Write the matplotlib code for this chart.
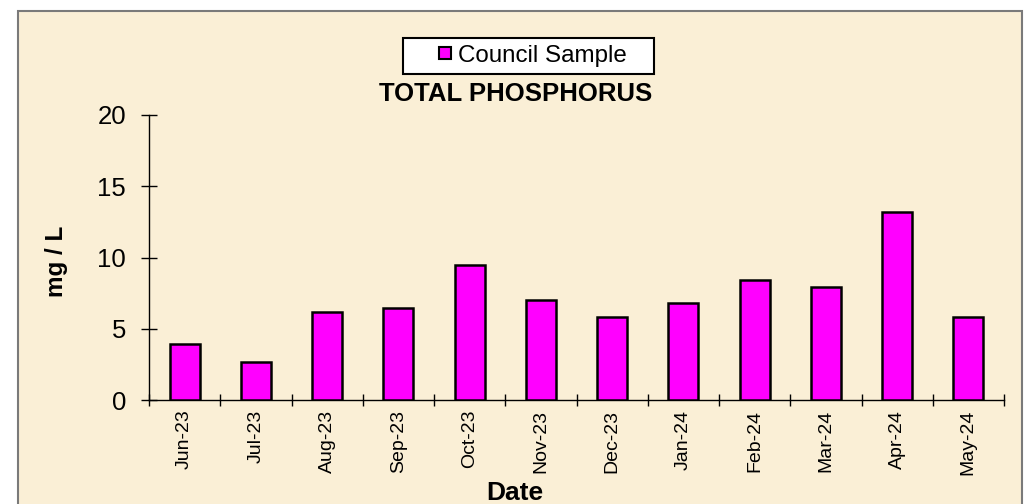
import matplotlib.pyplot as plt
from matplotlib.patches import Rectangle
from matplotlib.lines import Line2D
import numpy as np

plt.rcParams['font.family'] = ['Liberation Sans', 'DejaVu Sans']

# valeurs
mois = ['Jun-23', 'Jul-23', 'Aug-23', 'Sep-23', 'Oct-23', 'Nov-23',
        'Dec-23', 'Jan-24', 'Feb-24', 'Mar-24', 'Apr-24', 'May-24']
phosphore = [3.9, 2.7, 6.15, 6.45, 9.5, 7.05, 5.8, 6.8, 8.45, 7.95, 13.2, 5.8]
serie = 'Council Sample'
titre = 'TOTAL PHOSPHORUS'

W, H = 1028, 504
fig = plt.figure(figsize=(W/100, H/100), dpi=100)
fig.patch.set_facecolor('white')

# cadre beige
fond = Rectangle((18/W, -0.05), (1022-18)/W, 1.05-11/H, transform=fig.transFigure,
                 facecolor='#FAEFD6', edgecolor='#7a7a7a', linewidth=1.5, zorder=-10)
fig.patches.append(fond)

ax = fig.add_axes([149/W, 1-400/H, (1004-149)/W, (400-115)/H])
ax.set_facecolor('none')
x = np.arange(len(mois))
ax.bar(x, phosphore, width=0.42, color='#FF00FF', edgecolor='black', linewidth=1.8, zorder=3)

ax.set_xlim(-0.5, len(mois)-0.5)
ax.set_ylim(0, 20)
ax.set_yticks([0, 5, 10, 15, 20])
ax.set_xticks(x)
ax.set_xticklabels(mois, rotation=90, fontsize=14)
ax.set_xticks(np.arange(-0.5, len(mois), 1), minor=True)
ax.tick_params(axis='x', which='major', length=0, pad=7)
ax.tick_params(axis='x', which='minor', direction='inout', length=8, width=1)
ax.tick_params(axis='y', direction='inout', length=11, width=1, labelsize=18.5, pad=11)
for s in ['top', 'right']:
    ax.spines[s].set_visible(False)
for s in ['left', 'bottom']:
    ax.spines[s].set_linewidth(1)

fig.text(516/W, 1-94/H, titre, ha='center', va='center', fontsize=18.5, fontweight='bold')
fig.text(515/W, 1-493/H, 'Date', ha='center', va='center', fontsize=19, fontweight='bold')
fig.text(56/W, 1-261/H, 'mg / L', ha='center', va='center', rotation=90,
         fontsize=17.5, fontweight='bold')

poignee = Line2D([], [], linestyle='none', marker='s', markersize=9,
                 markerfacecolor='#FF00FF', markeredgecolor='black', markeredgewidth=1.5)
leg = fig.legend([poignee], [serie], loc='lower left',
                 bbox_to_anchor=(402.7/W, 1-74/H, (654-402.7)/W, 0), mode='expand',
                 borderaxespad=0, fontsize=17.4, frameon=True, fancybox=False,
                 borderpad=0.3, handlelength=2.87, handletextpad=-0.9)
leg.get_frame().set_edgecolor('black')
leg.get_frame().set_linewidth(1.5)
leg.get_frame().set_facecolor('white')
leg.get_frame().set_alpha(1)

plt.savefig('out.png', dpi=100)
